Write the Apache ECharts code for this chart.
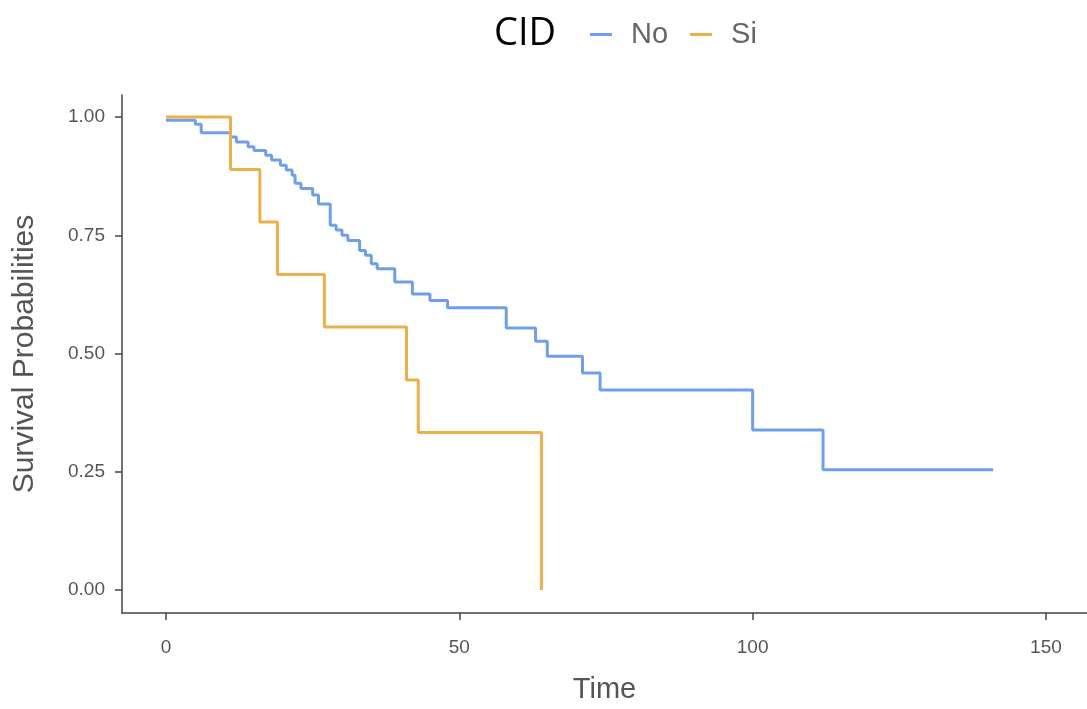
<!DOCTYPE html>
<html>
<head>
<meta charset="utf-8">
<script src="https://cdn.jsdelivr.net/npm/echarts@6/dist/echarts.min.js"></script>
<style>html,body{margin:0;padding:0;background:#fff;}#c{width:1087px;height:709px;}</style>
</head>
<body>
<div id="c"></div>
<script>
// Kaplan-Meier step points: [time, survival]
const seriesNames = ['No', 'Si'];
const noCurve = [
  [0, 0.993], [5, 0.985], [6, 0.967], [11, 0.958], [12, 0.947], [14, 0.937],
  [15, 0.929], [17, 0.919], [18, 0.909], [19.5, 0.898], [20.5, 0.888],
  [21.5, 0.877], [22, 0.860], [23, 0.849], [25, 0.835], [26, 0.816],
  [28, 0.771], [29, 0.761], [30, 0.750], [31, 0.739], [33, 0.718],
  [34, 0.708], [35, 0.690], [36, 0.679], [39, 0.651], [42, 0.626],
  [45, 0.612], [48, 0.597], [58, 0.554], [63, 0.526], [65, 0.494],
  [71, 0.459], [74, 0.423], [100, 0.338], [112, 0.254], [141, 0.254]
];
const siCurve = [
  [0, 1.0], [11, 0.889], [16, 0.778], [19, 0.667], [27, 0.556],
  [41, 0.444], [43, 0.333], [64, 0.0]
];
const xTicks = [0, 50, 100, 150];
const yTicks = [0, 0.25, 0.5, 0.75, 1.0];

const colors = ['#6f9fe8', '#eab04c'];
const chart = echarts.init(document.getElementById('c'));
const txtFont = "'Liberation Sans', Arial, sans-serif";
chart.setOption({
  animation: false,
  backgroundColor: '#ffffff',
  title: {
    text: 'CID',
    left: 489, top: 10,
    textStyle: { fontFamily: "'Open Sans', 'Noto Sans', sans-serif", fontSize: 38, fontWeight: 'normal', color: '#000' }
  },
  legend: {
    data: seriesNames,
    left: 585, top: 15,
    icon: 'rect',
    itemWidth: 22, itemHeight: 3,
    itemGap: 22,
    textStyle: { fontFamily: txtFont, fontSize: 29, color: '#666', padding: [0, 0, 0, 14] }
  },
  grid: { left: 122, right: 0, top: 95, bottom: 96, outerBoundsMode: 'none', containLabel: false },
  xAxis: {
    type: 'value', min: -7.5, max: 157,
    name: 'Time', nameLocation: 'middle', nameGap: 62,
    nameTextStyle: { fontFamily: txtFont, fontSize: 29, color: '#555' },
    axisLine: { show: true, onZero: false, lineStyle: { color: '#444', width: 1.5 } },
    axisTick: { show: true, customValues: xTicks, length: 7, lineStyle: { color: '#444', width: 1.5 } },
    axisLabel: { customValues: xTicks, margin: 25, fontFamily: txtFont, fontSize: 19, color: '#555' },
    splitLine: { show: false }
  },
  yAxis: {
    type: 'value', min: -0.0487, max: 1.0466,
    name: 'Survival Probabilities', nameLocation: 'middle', nameGap: 82, nameRotate: 90,
    nameTextStyle: { fontFamily: txtFont, fontSize: 30, color: '#555' },
    axisLine: { show: true, onZero: false, lineStyle: { color: '#444', width: 1.5 } },
    axisTick: { show: true, customValues: yTicks, length: 7, lineStyle: { color: '#444', width: 1.5 } },
    axisLabel: { customValues: yTicks, margin: 17, fontFamily: txtFont, fontSize: 19, color: '#555',
      formatter: v => v.toFixed(2) },
    splitLine: { show: false }
  },
  series: [
    { name: seriesNames[0], type: 'line', step: 'end', data: noCurve, showSymbol: false, symbol: 'none',
      lineStyle: { color: colors[0], width: 3 }, itemStyle: { color: colors[0] } },
    { name: seriesNames[1], type: 'line', step: 'end', data: siCurve, showSymbol: false, symbol: 'none',
      lineStyle: { color: colors[1], width: 3 }, itemStyle: { color: colors[1] } }
  ]
});
</script>
</body>
</html>
